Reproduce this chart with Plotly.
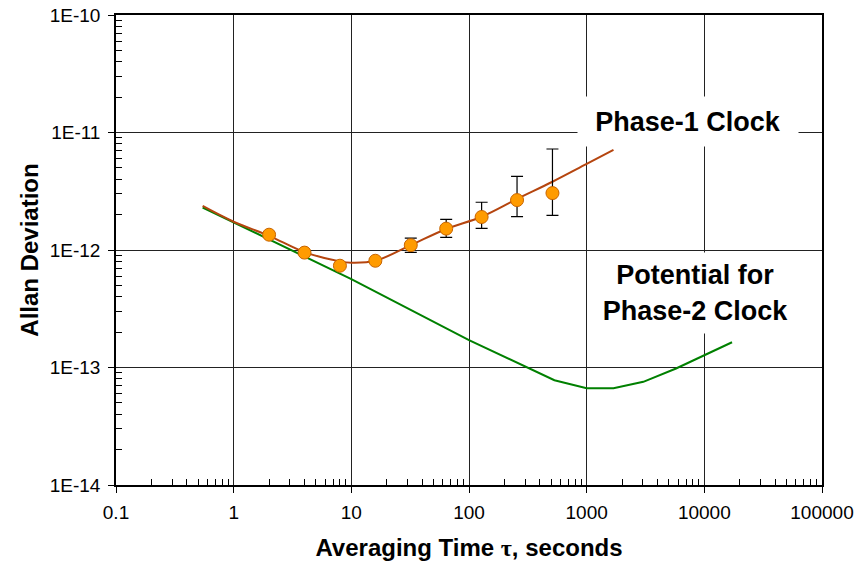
import plotly.graph_objects as go

# Phase-1 clock model curve
p1_tau = [0.545, 1, 2, 4, 8, 10, 16, 32, 64, 128, 256, 512, 1000, 1690]
p1_adev = [2.37e-12, 1.74e-12, 1.32e-12, 0.96e-12, 0.80e-12, 0.78e-12, 0.81e-12,
           1.10e-12, 1.51e-12, 1.92e-12, 2.72e-12, 3.81e-12, 5.4e-12, 7.1e-12]

# Phase-1 measured points
meas_tau = [2, 4, 8, 16, 32, 64, 128, 256, 512]
meas_adev = [1.35e-12, 0.95e-12, 0.735e-12, 0.81e-12, 1.10e-12, 1.52e-12, 1.91e-12, 2.66e-12, 3.05e-12]
meas_upper = [1.39e-12, 0.98e-12, 0.76e-12, 0.84e-12, 1.26e-12, 1.82e-12, 2.55e-12, 4.24e-12, 7.24e-12]
meas_lower = [1.31e-12, 0.92e-12, 0.71e-12, 0.78e-12, 0.956e-12, 1.28e-12, 1.53e-12, 1.92e-12, 1.97e-12]

# Potential Phase-2 clock curve
p2_tau = [0.545, 10, 100, 532, 1000, 1690, 3030, 5750, 17200]
p2_adev = [2.30e-12, 5.66e-13, 1.71e-13, 7.8e-14, 6.67e-14, 6.67e-14, 7.55e-14, 9.8e-14, 1.64e-13]

x_tickvals = [0.1, 1, 10, 100, 1000, 10000, 100000]
x_ticktext = ["0.1", "1", "10", "100", "1000", "10000", "100000"]
y_tickvals = [1e-14, 1e-13, 1e-12, 1e-11, 1e-10]
y_ticktext = ["1E-14", "1E-13", "1E-12", "1E-11", "1E-10"]

x_minor = [m * d for d in [0.1, 1, 10, 100, 1000, 10000] for m in range(2, 10)]
y_minor = [m * d for d in [1e-14, 1e-13, 1e-12, 1e-11] for m in range(2, 10)]

err_plus = [u - v for u, v in zip(meas_upper, meas_adev)]
err_minus = [v - l for v, l in zip(meas_adev, meas_lower)]

fig = go.Figure()
fig.add_trace(go.Scatter(x=p2_tau, y=p2_adev, mode="lines",
                         line=dict(color="#008000", width=2), showlegend=False))
fig.add_trace(go.Scatter(x=p1_tau, y=p1_adev, mode="lines", line_shape="spline",
                         line=dict(color="#B5450F", width=2), showlegend=False))
fig.add_trace(go.Scatter(x=meas_tau, y=meas_adev, mode="markers",
                         marker=dict(size=13, color="#FF9B00",
                                     line=dict(color="#C86400", width=1)),
                         error_y=dict(type="data", symmetric=False, array=err_plus,
                                      arrayminus=err_minus, color="black",
                                      thickness=1.2, width=6),
                         showlegend=False))

font_family = "Liberation Sans, Arial, sans-serif"

fig.update_layout(
    width=858, height=564,
    margin=dict(l=116, r=36, t=15, b=79),
    paper_bgcolor="white", plot_bgcolor="white",
    font=dict(family=font_family, color="black"),
    xaxis=dict(
        type="log", range=[-1, 5], automargin=False,
        tickmode="array", tickvals=x_tickvals, ticktext=x_ticktext,
        tickfont=dict(size=19, color="black"), ticklabelstandoff=3,
        ticklabeloverflow="allow",
        ticks="outside", ticklen=6, tickcolor="black",
        showgrid=True, gridcolor="#222222", gridwidth=1,
        showline=True, linecolor="black", linewidth=1.5, mirror=True,
        zeroline=False,
        minor=dict(tickmode="array", tickvals=x_minor, ticks="inside",
                   ticklen=6, tickcolor="black", showgrid=False),
        title=dict(text="<b>Averaging Time <span style='font-family:Liberation Serif'>τ</span>, seconds</b>",
                   font=dict(size=24, color="black"), standoff=18),
    ),
    yaxis=dict(
        type="log", range=[-14, -10], automargin=False,
        tickmode="array", tickvals=y_tickvals, ticktext=y_ticktext,
        tickfont=dict(size=19, color="black"), ticklabelstandoff=4,
        ticklabeloverflow="allow",
        ticks="outside", ticklen=6, tickcolor="black",
        showgrid=True, gridcolor="#222222", gridwidth=1,
        showline=True, linecolor="black", linewidth=1.5, mirror=True,
        zeroline=False,
        minor=dict(tickmode="array", tickvals=y_minor, ticks="inside",
                   ticklen=6, tickcolor="black", showgrid=False),
        title=dict(text="<b>Allan Deviation</b>", font=dict(size=24, color="black"),
                   standoff=4),
    ),
    annotations=[
        dict(text="<b>Phase-1 Clock</b>", xref="paper", yref="paper",
             x=0.810, y=0.774, xanchor="center", yanchor="middle",
             showarrow=False, font=dict(size=27, color="black"),
             bgcolor="white", width=220, height=49, borderpad=0),
        dict(text="<b>Potential for<br>Phase-2 Clock</b>", xref="paper", yref="paper",
             x=0.8215, y=0.409, xanchor="center", yanchor="middle",
             showarrow=False, font=dict(size=27, color="black"),
             bgcolor="white", width=215, height=80, borderpad=0),
    ],
)

# remove the default 8px page margin so the figure fills the window exactly
fig.write_html("out.html", config={"displayModeBar": False},
               post_script="document.body.style.margin='0';")
